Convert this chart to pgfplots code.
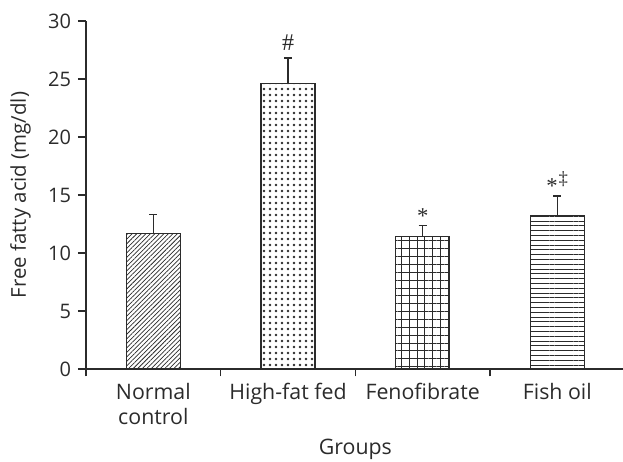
\documentclass[border=0pt]{standalone}
\usepackage{fontspec}
\setmainfont{Open Sans}
\newfontfamily\symfont{Liberation Serif}
\usepackage{pgfplots}
\pgfplotsset{compat=1.18}
\usetikzlibrary{patterns.meta}
\definecolor{ink}{HTML}{2B2B2B}
\begin{document}
\begin{tikzpicture}
\begin{axis}[
  at={(0pt,0pt)}, anchor=south west,
  width=404pt, height=261pt, scale only axis,
  xmin=0, xmax=4, ymin=0, ymax=30,
  axis x line=bottom, axis y line=left,
  axis line style={ink, line width=0.9pt, -},
  every tick/.style={ink, line width=0.9pt},
  tick align=outside,
  ytick={0,5,...,30},
  major tick length=6pt,
  xtick={0.5,1.5,2.5,3.5},
  xticklabels={{Normal\\control},{High-fat fed},{Fenofibrate},{Fish oil}},
  xticklabel style={align=center, anchor=north, inner sep=0pt, yshift=-4.5pt, text=ink, font=\fontsize{16}{19}\selectfont},
  x tick style={draw=none},
  extra x ticks={0,1,2,3},
  extra x tick labels={},
  extra x tick style={x tick style={draw=ink, line width=0.9pt}, major tick length=5.5pt},
  yticklabel style={text=ink, anchor=east, inner sep=0pt, xshift=-5pt, font=\fontsize{15}{18}\selectfont},
  /pgf/number format/assume math mode=true,
  ylabel={Free fatty acid (mg/dl)},
  xlabel={Groups},
  label style={text=ink},
  ylabel style={at={(axis description cs:-0.141,0.5)}, anchor=north, rotate=0, inner sep=0pt, font=\fontsize{15.3}{18}\selectfont},
  xlabel style={at={(axis description cs:0.5,-0.247)}, anchor=base, inner sep=0pt, font=\fontsize{16}{18}\selectfont},
  clip=false,
  ybar, bar width=0.4,
  error bars/y dir=plus, error bars/y explicit,
  error bars/error bar style={ink, line width=1pt},
  error bars/error mark options={rotate=90, mark size=3pt, ink, line width=1pt},
]
\addplot[ink, line width=0.9pt, bar shift=0pt,
  pattern={Lines[angle=45, distance=2.4pt, line width=0.55pt]}, pattern color=ink]
  coordinates {(0.5,11.7) +- (0,1.6)};
\addplot[ink, line width=0.9pt, bar shift=0pt,
  pattern={Dots[distance=4.5pt, radius=1.05pt]}, pattern color=ink]
  coordinates {(1.5,24.6) +- (0,2.2)};
\addplot[ink, line width=0.9pt, bar shift=0pt,
  pattern={Hatch[angle=0, distance=5.9pt, line width=0.65pt]}, pattern color=ink]
  coordinates {(2.5,11.4) +- (0,0.95)};
\addplot[ink, line width=0.9pt, bar shift=0pt,
  pattern={Lines[angle=0, distance=3.6pt, line width=0.65pt]}, pattern color=ink]
  coordinates {(3.5,13.2) +- (0,1.7)};
\node[text=ink, font=\symfont\fontsize{18}{18}\selectfont] at (axis cs:1.5,28.1) {\#};
\node[text=ink, font=\symfont\fontsize{17}{17}\selectfont] at (axis cs:2.5,13.2) {*};
\node[text=ink, font=\symfont\fontsize{17}{17}\selectfont] at (axis cs:3.46,15.75) {*};
\node[text=ink, font=\symfont\fontsize{14}{14}\selectfont] at (axis cs:3.545,16.4) {‡};
\end{axis}
\pgfresetboundingbox
\path[use as bounding box] (-64.5pt,-69pt) rectangle (402.75pt,276.75pt);
\end{tikzpicture}
\end{document}
